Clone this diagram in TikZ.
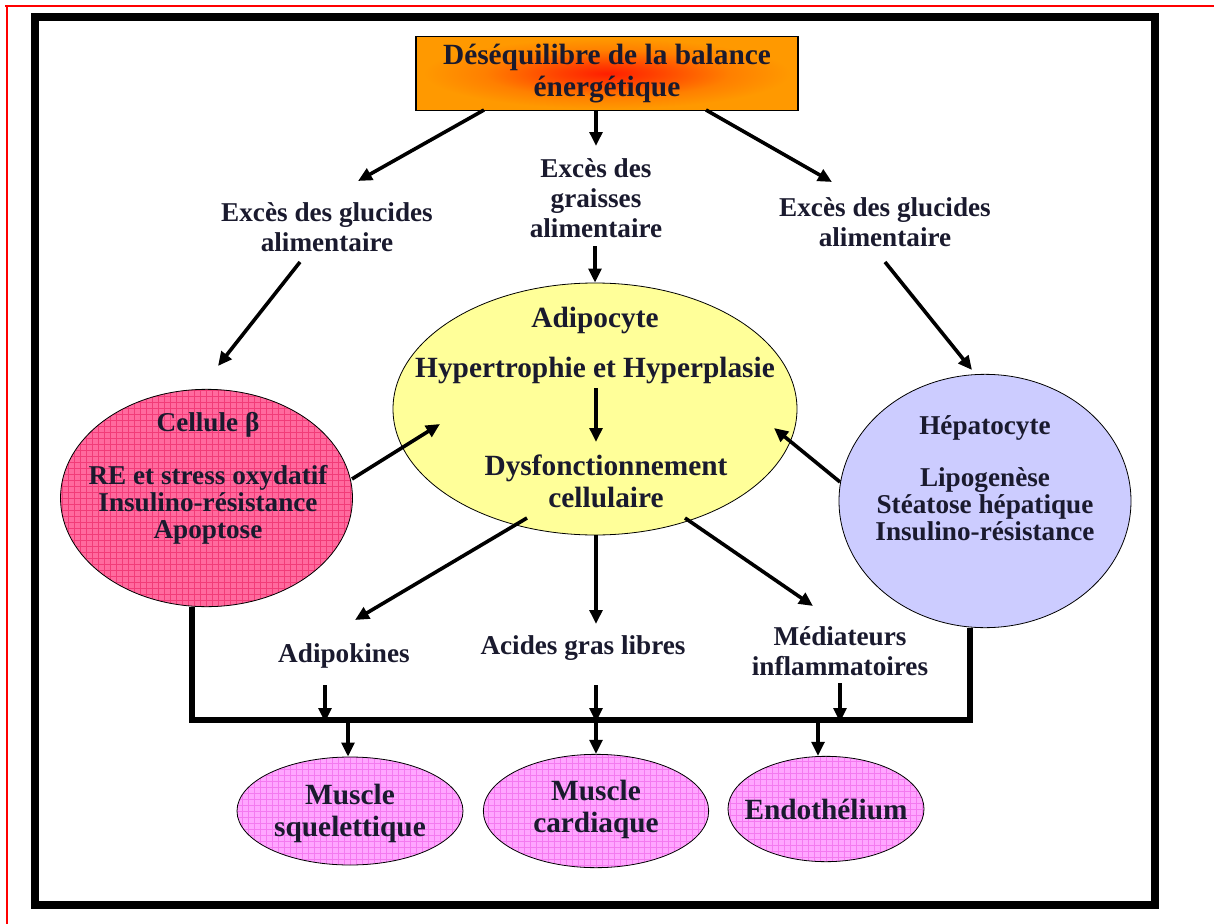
\documentclass[tikz,border=0pt]{standalone}
\usepackage{fontspec}
\setmainfont{Liberation Serif}
\usetikzlibrary{shapes.geometric,arrows.meta}
\definecolor{txt}{HTML}{1A1A2E}
\definecolor{yellowA}{HTML}{FFFF99}
\definecolor{lavA}{HTML}{CCCCFF}
\definecolor{pinkA}{HTML}{FF6A9E}
\definecolor{pinkGrid}{HTML}{F23C78}
\definecolor{magA}{HTML}{FFA6FF}
\definecolor{magGrid}{HTML}{F47AF0}
\pgfdeclareradialshading{glow}{\pgfpoint{0bp}{0bp}}{rgb(0bp)=(1,0.12,0); rgb(6bp)=(1,0.25,0); rgb(16bp)=(1,0.5,0); rgb(24bp)=(1,0.6,0); rgb(50bp)=(1,0.6,0)}
\begin{document}
\begin{tikzpicture}[x=0.75pt,y=-0.75pt,
  lbl/.style={text=txt,font=\bfseries\fontsize{20.4}{22.5}\selectfont,align=center,inner sep=0pt},
  cbody/.style={text=txt,font=\bfseries\fontsize{20.4}{20}\selectfont,align=center,inner sep=0pt},
  big/.style={text=txt,font=\bfseries\fontsize{22}{24}\selectfont,align=center,inner sep=0pt},
  arr/.style={line width=2.7pt,-{Triangle[length=10.5pt,width=9.5pt]}},
  bus/.style={line width=3.8pt},
  cell/.style={ellipse,draw=black,line width=0.6pt,inner sep=0pt},
  pinkgrid/.style={path picture={\draw[#1,line width=0.4pt]
     ([shift={(-6pt,-6pt)}]path picture bounding box.south west) grid[step=4.5pt]
     ([shift={(6pt,6pt)}]path picture bounding box.north east);}},
]
\useasboundingbox (0,0) rectangle (1214,924);
% outer red lines
\draw[red,line width=1.1pt] (5,6) -- (1214,6);
\draw[red,line width=1.1pt] (7,6) -- (7,924);
% black frame
\draw[black,line width=6pt] (35,17) rectangle (1155,905);

% top box
\node[draw=black,line width=0.8pt,shading=glow,
      minimum width=286.5pt,minimum height=55pt,inner sep=0pt] (top) at (607,73.5) {};
\node[big] (toptxt) at (607,74) {Déséquilibre de la balance\\énergétique};

% labels
\node[lbl] (glL) at (327,227) {Excès des glucides\\alimentaire};
\node[lbl] (gr) at (596,198) {Excès des\\graisses\\alimentaire};
\node[lbl] (glR) at (885,222) {Excès des glucides\\alimentaire};

% ellipses
\node[cell,fill=yellowA,minimum width=303pt,minimum height=189pt] (adip) at (595,409) {};
\node[cell,fill=pinkA,pinkgrid=pinkGrid,minimum width=219pt,minimum height=163pt] (cellb) at (206.5,498) {};
\node[cell,fill=lavA,minimum width=219pt,minimum height=190pt] (hep) at (985,501) {};

\node[big] (adiptxt) at (595,320) {Adipocyte};
\node[big] (hyp) at (595,370) {Hypertrophie et Hyperplasie};
\node[big] (dys) at (606,481) {Dysfonctionnement\\cellulaire};

\node[cbody] (celltxt) at (208,478) {Cellule β\\[20pt]RE et stress oxydatif\\Insulino-résistance\\Apoptose};
\node[cbody] (heptxt) at (985,478) {Hépatocyte\\[19.5pt]Lipogenèse\\Stéatose hépatique\\Insulino-résistance};

% mediators
\node[lbl] (adipok) at (344,656) {Adipokines};
\node[lbl] (agl) at (583,648) {Acides gras libres};
\node[lbl] (med) at (840,651) {Médiateurs\\inflammatoires};

% bottom ellipses
\node[cell,fill=magA,pinkgrid=magGrid,minimum width=169.5pt,minimum height=81pt] (msq) at (350,811) {};
\node[cell,fill=magA,pinkgrid=magGrid,minimum width=169pt,minimum height=85pt] (mca) at (596,811) {};
\node[cell,fill=magA,pinkgrid=magGrid,minimum width=147pt,minimum height=79pt] (endo) at (826,809) {};
\node[big] (msqtxt) at (350,813) {Muscle\\squelettique};
\node[big] (mcatxt) at (596,809) {Muscle\\cardiaque};
\node[big] (endotxt) at (826,809) {Endothélium};

% coordinates
\coordinate (a1s) at (484,110); \coordinate (a1e) at (358,181);
\coordinate (a2s) at (596,110); \coordinate (a2e) at (596,146);
\coordinate (a3s) at (706,110); \coordinate (a3e) at (832,182);
\coordinate (a4s) at (300,262); \coordinate (a4e) at (218,366);
\coordinate (a5s) at (595,246);
\coordinate (a6s) at (885,262); \coordinate (a6e) at (972,370);
\coordinate (a7s) at (596,388); \coordinate (a7e) at (596,442);
\coordinate (a8s) at (352,479); \coordinate (a8e) at (440,424);
\coordinate (a9s) at (840,482); \coordinate (a9e) at (774,428);
\coordinate (a10s) at (527,518); \coordinate (a10e) at (355,620);
\coordinate (a11s) at (596,535); \coordinate (a11e) at (596,624);
\coordinate (a12s) at (685,518); \coordinate (a12e) at (813,606);
\coordinate (b1) at (325,685); \coordinate (b2) at (596,685); \coordinate (b3) at (840,683);
\coordinate (barL) at (192,720); \coordinate (barR) at (970,720);
\coordinate (c1) at (348,720); \coordinate (c2) at (596,720); \coordinate (c3) at (818,720);

% arrows
\draw[arr] (a1s) -- (a1e);
\draw[arr] (a2s) -- (a2e);
\draw[arr] (a3s) -- (a3e);
\draw[arr] (a4s) -- (a4e);
\draw[arr] (a5s) -- (adip.north);
\draw[arr] (a6s) -- (a6e);
\draw[arr] (a7s) -- (a7e);
\draw[arr] (a8s) -- (a8e);
\draw[arr] (a9s) -- (a9e);
\draw[arr] (a10s) -- (a10e);
\draw[arr] (a11s) -- (a11e);
\draw[arr] (a12s) -- (a12e);

% bus
\draw[bus] (cellb.south -| barL) -- (barL) -- (barR) -- (hep.south -| barR);
\draw[arr] (b1) -- ([yshift=-1.6pt]b1 |- barL);
\draw[arr] (b2) -- ([yshift=-1.6pt]b2 |- barL);
\draw[arr] (b3) -- ([yshift=-1.6pt]b3 |- barL);
\draw[arr] ([yshift=-1.5pt]c1) -- (msq.north -| c1);
\draw[arr] ([yshift=-1.5pt]c2) -- (mca.north -| c2);
\draw[arr] ([yshift=-1.5pt]c3) -- (endo.north -| c3);
\end{tikzpicture}
\end{document}
